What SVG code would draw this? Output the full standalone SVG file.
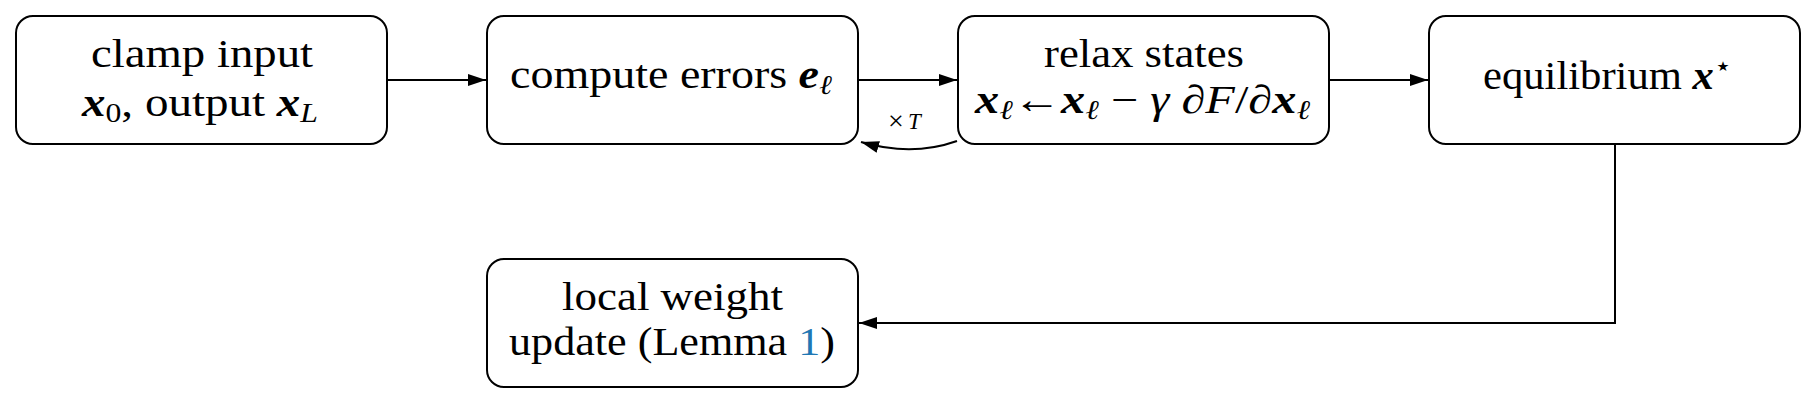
<svg xmlns="http://www.w3.org/2000/svg" width="1816" height="403" viewBox="0 0 1816 403">
<style>
.box{fill:#fff;stroke:#000;stroke-width:2}
.t{font-family:"Liberation Serif","DejaVu Serif",serif;font-size:40px;fill:#000}
.m{font-weight:bold;font-style:italic}
.sub{font-size:27px}
.it{font-style:italic}
.edge{fill:none;stroke:#000;stroke-width:2}
.lbl{font-family:"Liberation Serif","DejaVu Serif",serif;font-size:23px;fill:#000}
</style>
<defs>
<marker id="ah" markerUnits="userSpaceOnUse" markerWidth="20" markerHeight="14" refX="18" refY="6" orient="auto">
<path d="M0,0 L18,6 L0,12 z" fill="#000"/>
</marker>
</defs>
<g id="edges">
<line class="edge" x1="387" y1="80" x2="486" y2="80" marker-end="url(#ah)"/>
<line class="edge" x1="858" y1="80" x2="957" y2="80" marker-end="url(#ah)"/>
<line class="edge" x1="1329" y1="80" x2="1428" y2="80" marker-end="url(#ah)"/>
<path class="edge" d="M957,141 Q912,157 861,142" marker-end="url(#ah)"/>
<text class="lbl" x="888" y="130" style="font-size:28px">×</text>
<text class="lbl it" x="908" y="129">T</text>
<path class="edge" d="M1615,144 V323 H859" marker-end="url(#ah)"/>
</g>
<g id="n1">
<rect class="box" x="16" y="16" width="371" height="128" rx="17"/>
<text class="t" x="91" y="67" textLength="222" lengthAdjust="spacingAndGlyphs">clamp input</text>
<text class="t" x="82" y="116" textLength="236" lengthAdjust="spacingAndGlyphs"><tspan class="m">x</tspan><tspan class="sub" dy="6">0</tspan><tspan dy="-6">, output </tspan><tspan class="m">x</tspan><tspan class="sub it" dy="6">L</tspan></text>
</g>
<g id="n2">
<rect class="box" x="487" y="16" width="371" height="128" rx="17"/>
<text class="t" x="510" y="88" textLength="322" lengthAdjust="spacingAndGlyphs">compute errors <tspan class="m">e</tspan><tspan class="sub it" dy="6">ℓ</tspan></text>
</g>
<g id="n3">
<rect class="box" x="958" y="16" width="371" height="128" rx="17"/>
<text class="t" x="1044" y="67" textLength="200" lengthAdjust="spacingAndGlyphs">relax states</text>
<text class="t" x="975" y="113" textLength="335" lengthAdjust="spacingAndGlyphs"><tspan class="m">x</tspan><tspan class="sub it" dy="6">ℓ</tspan><tspan dy="-6">←</tspan><tspan class="m">x</tspan><tspan class="sub it" dy="6">ℓ</tspan><tspan dy="-6"> − </tspan><tspan class="it">γ</tspan><tspan> ∂</tspan><tspan class="it">F</tspan><tspan>/∂</tspan><tspan class="m">x</tspan><tspan class="sub it" dy="6">ℓ</tspan></text>
</g>
<g id="n4">
<rect class="box" x="1429" y="16" width="371" height="128" rx="17"/>
<text class="t" x="1483" y="89" textLength="249" lengthAdjust="spacingAndGlyphs">equilibrium <tspan class="m">x</tspan><tspan class="sub" dy="-14">⋆</tspan></text>
</g>
<g id="n5">
<rect class="box" x="487" y="259" width="371" height="128" rx="17"/>
<text class="t" x="562" y="310" textLength="221" lengthAdjust="spacingAndGlyphs">local weight</text>
<text class="t" x="509" y="355" textLength="326" lengthAdjust="spacingAndGlyphs">update (Lemma <tspan fill="#1f78b4">1</tspan>)</text>
</g>
</svg>
